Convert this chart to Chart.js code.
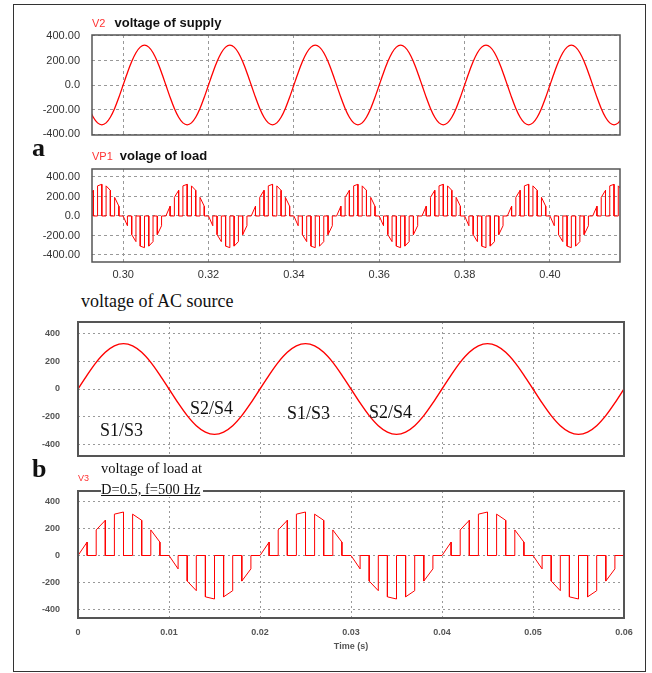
<!DOCTYPE html>
<html>
<head>
<meta charset="utf-8">
<script src="https://cdn.jsdelivr.net/npm/chart.js@4.4.1/dist/chart.umd.min.js"></script>
<style>
  body { margin: 0; width: 652px; height: 673px; background: #fff; position: relative; overflow: hidden; }
  canvas { position: absolute; left: 0; }
  .txt { position: absolute; white-space: nowrap; }
  .sans { font-family: "Liberation Sans", Arial, sans-serif; color: #111; }
  .serif { font-family: "Liberation Serif", "Times New Roman", serif; color: #111; }
</style>
</head>
<body>
<div style="position:absolute;left:13px;top:4px;width:633px;height:668px;border:1px solid #333;box-sizing:border-box"></div>

<canvas id="supplyChart" width="652" height="112" style="top:28px"></canvas>
<canvas id="loadChart" width="652" height="122" style="top:163px"></canvas>
<canvas id="sourceChart" width="652" height="145" style="top:315px"></canvas>
<canvas id="pwmChart" width="652" height="170" style="top:484px"></canvas>

<div class="txt sans" style="left:92px;top:16px;font-size:13px;line-height:13px"><span style="color:#f33;font-size:11px;margin-right:9px">V2</span><b>voltage of supply</b></div>
<div class="txt serif" style="left:32px;top:135px;font-size:26px;line-height:26px;font-weight:bold">a</div>
<div class="txt sans" style="left:92px;top:149px;font-size:13px;line-height:13px"><span style="color:#f33;font-size:11px;margin-right:7px">VP1</span><b>volage of load</b></div>

<div class="txt serif" style="left:81px;top:292px;font-size:18px;line-height:18px">voltage of AC source</div>
<div class="txt serif" style="left:100px;top:421px;font-size:18px;line-height:18px">S1/S3</div>
<div class="txt serif" style="left:190px;top:399px;font-size:18px;line-height:18px">S2/S4</div>
<div class="txt serif" style="left:287px;top:404px;font-size:18px;line-height:18px">S1/S3</div>
<div class="txt serif" style="left:369px;top:403px;font-size:18px;line-height:18px">S2/S4</div>

<div class="txt serif" style="left:32px;top:456px;font-size:26px;line-height:26px;font-weight:bold">b</div>
<div class="txt sans" style="left:78px;top:474px;font-size:9px;line-height:9px;color:#f33">V3</div>
<div class="txt serif" style="left:101px;top:461px;font-size:14.5px;line-height:15px">voltage of load at</div>
<div class="txt serif" style="left:101px;top:482px;font-size:14.5px;line-height:15px;background:#fff;text-decoration:underline;padding-right:3px">D=0.5, f=500 Hz</div>

<script>
Chart.defaults.font.family = '"Liberation Sans", Arial, sans-serif';
Chart.defaults.animation = false;

// ---- data ----
// (a) sampled every 1 ms starting at t = 0.292 s
const tStartA = 0.292;
const supplyA = [
  -191, -263, -309, -325, -309, -263, -191, -100,
  0, 100, 191, 263, 309, 325, 309, 263, 191, 100, 0, -100, -191, -263, -309, -325, -309, -263, -191, -100,
  0, 100, 191, 263, 309, 325, 309, 263, 191, 100, 0, -100, -191, -263, -309, -325, -309, -263, -191, -100,
  0, 100, 191, 263, 309, 325, 309, 263, 191, 100, 0, -100, -191, -263, -309, -325, -309, -263, -191, -100,
  0, 100, 191, 263, 309, 325, 309, 263, 191, 100, 0, -100, -191, -263, -309, -325, -309, -263, -191, -100,
  0, 100, 191, 263, 309, 325, 309, 263, 191, 100, 0, -100, -191, -263, -309, -325, -309, -263, -191, -100,
  0, 100, 191, 263, 309, 325, 309, 263, 191, 100, 0, -100, -191, -263, -309, -325, -309, -263
];
const loadA = [
  191, 263, 309, 325, 309, 263, 191, 100,
  0, -100, -191, -263, -309, -325, -309, -263, -191, -100, 0, 100, 191, 263, 309, 325, 309, 263, 191, 100,
  0, -100, -191, -263, -309, -325, -309, -263, -191, -100, 0, 100, 191, 263, 309, 325, 309, 263, 191, 100,
  0, -100, -191, -263, -309, -325, -309, -263, -191, -100, 0, 100, 191, 263, 309, 325, 309, 263, 191, 100,
  0, -100, -191, -263, -309, -325, -309, -263, -191, -100, 0, 100, 191, 263, 309, 325, 309, 263, 191, 100,
  0, -100, -191, -263, -309, -325, -309, -263, -191, -100, 0, 100, 191, 263, 309, 325, 309, 263, 191, 100,
  0, -100, -191, -263, -309, -325, -309, -263, -191, -100, 0, 100, 191, 263, 309, 325, 309, 263
];
const xTicksA = [0.30, 0.32, 0.34, 0.36, 0.38, 0.40];
const xLabelsA = ['0.30', '0.32', '0.34', '0.36', '0.38', '0.40'];
const yTicksA = [-400, -200, 0, 200, 400];
const yLabelsA = ['-400.00', '-200.00', '0.0', '200.00', '400.00'];

// (b) sampled every 1 ms starting at t = 0
const tStartB = 0;
const sourceB = [
  0, 100, 191, 263, 309, 325, 309, 263, 191, 100, 0, -100, -191, -263, -309, -325, -309, -263, -191, -100,
  0, 100, 191, 263, 309, 325, 309, 263, 191, 100, 0, -100, -191, -263, -309, -325, -309, -263, -191, -100,
  0, 100, 191, 263, 309, 325, 309, 263, 191, 100, 0, -100, -191, -263, -309, -325, -309, -263, -191, -100,
  0
];
const loadB = [
  0, 100, 191, 263, 309, 325, 309, 263, 191, 100, 0, -100, -191, -263, -309, -325, -309, -263, -191, -100,
  0, 100, 191, 263, 309, 325, 309, 263, 191, 100, 0, -100, -191, -263, -309, -325, -309, -263, -191, -100,
  0, 100, 191, 263, 309, 325, 309, 263, 191, 100, 0, -100, -191, -263, -309, -325, -309, -263, -191, -100,
  0
];
const xTicksB = [0, 0.01, 0.02, 0.03, 0.04, 0.05, 0.06];
const xLabelsB = ['0', '0.01', '0.02', '0.03', '0.04', '0.05', '0.06'];
const yTicksB = [-400, -200, 0, 200, 400];
const yLabelsB = ['-400', '-200', '0', '200', '400'];

// ---- helpers ----
function toPoints(t0, values) {
  return values.map((v, i) => ({x: t0 + i * 0.001, y: v}));
}
// switch conducts during even milliseconds (D = 0.5), output is zero otherwise
function toPulses(t0, values) {
  const pts = [];
  for (let i = 0; i + 1 < values.length; i++) {
    const a = t0 + i * 0.001, b = t0 + (i + 1) * 0.001;
    if (i % 2 === 0) {
      pts.push({x: a, y: 0}, {x: a, y: values[i]}, {x: b, y: values[i + 1]}, {x: b, y: 0});
    } else {
      pts.push({x: a, y: 0}, {x: b, y: 0});
    }
  }
  return pts;
}

const framePlugin = {
  id: 'frame',
  afterDraw(chart, args, opts) {
    const {ctx, chartArea: a} = chart;
    ctx.save();
    ctx.strokeStyle = opts.color;
    ctx.lineWidth = opts.width;
    ctx.strokeRect(a.left, a.top, a.right - a.left, a.bottom - a.top);
    ctx.restore();
  }
};

function makeChart(id, points, o) {
  return new Chart(document.getElementById(id), {
    type: 'line',
    data: {
      datasets: [{
        data: points,
        borderColor: 'rgb(255,0,0)',
        borderWidth: o.lineWidth,
        pointRadius: 0,
        tension: o.tension
      }]
    },
    options: {
      responsive: false,
      events: [],
      layout: { padding: o.padding },
      scales: {
        x: {
          type: 'linear',
          min: o.xMin, max: o.xMax,
          afterBuildTicks: s => { s.ticks = o.xTicks.map(v => ({value: v})); },
          afterFit: s => { s.height = o.xHeight; s.paddingLeft = 0; s.paddingRight = 0; },
          ticks: {
            display: o.xLabels !== null,
            padding: o.xPad,
            maxRotation: 0,
            autoSkip: false,
            color: o.tickColor,
            font: o.tickFont,
            callback: (v, i) => o.xLabels ? o.xLabels[i] : ''
          },
          title: o.xTitle,
          grid: { color: o.gridColor, drawTicks: false },
          border: { display: false, dash: o.dash }
        },
        y: {
          min: o.yMin, max: o.yMax,
          afterBuildTicks: s => { s.ticks = o.yTicks.map(v => ({value: v})); },
          afterFit: s => { s.width = o.yWidth; s.paddingTop = 0; s.paddingBottom = 0; },
          ticks: {
            padding: o.yPad,
            color: o.tickColor,
            font: o.tickFont,
            callback: (v, i) => o.yLabels[i]
          },
          grid: { color: o.gridColor, drawTicks: false },
          border: { display: false, dash: o.dash }
        }
      },
      plugins: {
        legend: { display: false },
        tooltip: { enabled: false },
        frame: { color: o.frameColor, width: o.frameWidth }
      }
    },
    plugins: [framePlugin]
  });
}

const styleA = {
  xMin: 0.2927, xMax: 0.4164, xTicks: xTicksA,
  yTicks: yTicksA, yLabels: yLabelsA, yWidth: 92, yPad: 12,
  tickColor: '#333', tickFont: { size: 11 },
  gridColor: '#999', dash: [3, 3], frameColor: '#555', frameWidth: 1.5,
  xTitle: { display: false }
};
const styleB = {
  xMin: 0, xMax: 0.06, xTicks: xTicksB,
  yTicks: yTicksB, yLabels: yLabelsB, yWidth: 78, yPad: 18,
  tickColor: '#555', tickFont: { size: 9, weight: 'bold' },
  gridColor: '#999', dash: [2, 3], frameColor: '#555', frameWidth: 2
};

makeChart('supplyChart', toPoints(tStartA, supplyA), Object.assign({}, styleA, {
  yMin: -408, yMax: 408, xLabels: null, xHeight: 0, xPad: 0,
  padding: { top: 7, bottom: 5, left: 0, right: 32 }, lineWidth: 1.3, tension: 0.3
}));

makeChart('loadChart', toPulses(tStartA, loadA), Object.assign({}, styleA, {
  yMin: -472, yMax: 482, xLabels: xLabelsA, xHeight: 20, xPad: 6,
  padding: { top: 6, bottom: 3, left: 0, right: 32 }, lineWidth: 1, tension: 0
}));

makeChart('sourceChart', toPoints(tStartB, sourceB), Object.assign({}, styleB, {
  yMin: -480, yMax: 480, xLabels: null, xHeight: 0, xPad: 0,
  xTitle: { display: false },
  padding: { top: 7, bottom: 4, left: 0, right: 28 }, lineWidth: 1.4, tension: 0.3
}));

makeChart('pwmChart', toPulses(tStartB, loadB), Object.assign({}, styleB, {
  yMin: -467, yMax: 482, xLabels: xLabelsB, xHeight: 34, xPad: 9,
  xTitle: { display: true, text: 'Time (s)', color: '#555', font: { size: 9, weight: 'bold' }, padding: { top: 0, bottom: 0 } },
  padding: { top: 7, bottom: 2, left: 0, right: 28 }, lineWidth: 1, tension: 0
}));
</script>
</body>
</html>
